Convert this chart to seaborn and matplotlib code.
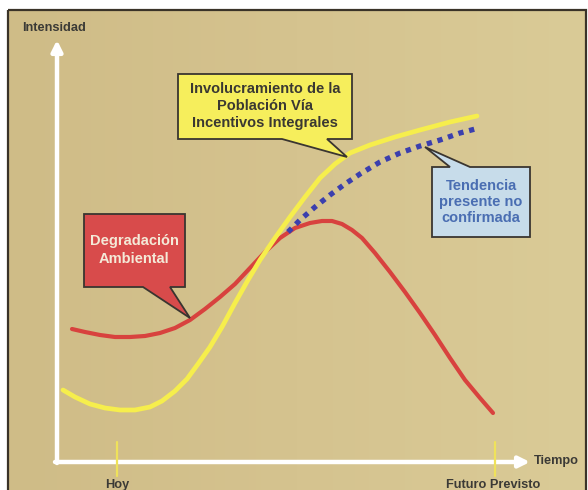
import numpy as np
import pandas as pd
import matplotlib
matplotlib.use("Agg")
import matplotlib.pyplot as plt
from matplotlib.patches import Polygon, Rectangle
from matplotlib.colors import LinearSegmentedColormap
from matplotlib import font_manager
import seaborn as sns

# ---- data (time position, intensity position) ----
yellow_t = [63, 75, 90, 105, 120, 135, 150, 162, 175, 187, 198, 210, 222, 235, 248, 260, 275, 290,
            305, 320, 335, 350, 370, 395, 420, 450, 477]
yellow_v = [390, 397, 404, 408, 410, 410, 407, 401, 391, 379, 364, 347, 327, 303, 280, 260, 238, 217,
            197, 178, 164, 153, 145, 137, 130, 122, 116]

red_t = [72, 85, 100, 115, 130, 145, 160, 175, 190, 205, 220, 235, 250, 265, 280, 295, 310, 322,
         332, 342, 352, 362, 375, 390, 405, 420, 435, 450, 465, 480, 493]
red_v = [329, 332, 335, 337, 337, 336, 333, 328, 320, 309, 297, 284, 268, 252, 238, 228, 223, 221,
         221, 224, 230, 238, 253, 272, 292, 313, 335, 358, 380, 398, 413]

blue_t = [288, 300, 315, 330, 345, 360, 380, 400, 420, 440, 460, 479]
blue_v = [232, 220, 207, 195, 184, 174, 162, 153, 146, 140, 133, 128]

tick_labels = ["Hoy", "Futuro Previsto"]
tick_pos = [117, 495]

sns.set_theme(style="white")
plt.rcParams['font.family'] = ['Liberation Sans', 'DejaVu Sans']

names = {f.name for f in font_manager.fontManager.ttflist}
if "Liberation Sans Narrow" in names:
    box_family = ["Liberation Sans Narrow", "Liberation Sans", "DejaVu Sans"]
    box_size = 12.0
else:
    box_family = ["Liberation Sans", "DejaVu Sans"]
    box_size = 10.5

fig = plt.figure(figsize=(5.88, 4.90), dpi=100)
fig.patch.set_facecolor("white")
ax = fig.add_axes([0, 0, 1, 1])
ax.set_xlim(0, 588)
ax.set_ylim(490, 0)
ax.axis("off")

# background panel with slight gradient
grad = np.linspace(0, 1, 256)[None, :]
cmap = LinearSegmentedColormap.from_list("tan", ["#cfbc87", "#d5c38f", "#dacb97"])
ax.imshow(grad, extent=(8, 586, 490, 10), aspect="auto", cmap=cmap, zorder=0)
ax.add_patch(Rectangle((8, 10), 578, 482, fill=False, edgecolor="#3a3328", lw=1.6, zorder=1))

# axes arrows
ax.annotate("", xy=(57, 40), xytext=(57, 463),
            arrowprops=dict(arrowstyle="-|>", lw=3.2, color="white", mutation_scale=16, shrinkA=0, shrinkB=0), zorder=2)
ax.annotate("", xy=(530, 462), xytext=(55, 462),
            arrowprops=dict(arrowstyle="-|>", lw=3.2, color="white", mutation_scale=16, shrinkA=0, shrinkB=0), zorder=2)

for p in tick_pos:
    ax.plot([p, p], [442, 476], color="#efe25a", lw=1.6, zorder=3)

lab_kw = dict(fontsize=9.2, fontweight="bold", color="#3b3a36", va="center")
ax.text(22, 28, "Intensidad", ha="left", **lab_kw)
ax.text(534, 461, "Tiempo", ha="left", **lab_kw)
ax.text(117, 485, tick_labels[0], ha="center", **lab_kw)
ax.text(493, 485, tick_labels[1], ha="center", **lab_kw)

# curves
df_y = pd.DataFrame({"t": yellow_t, "v": yellow_v})
df_r = pd.DataFrame({"t": red_t, "v": red_v})
df_b = pd.DataFrame({"t": blue_t, "v": blue_v})
sns.lineplot(data=df_r, x="t", y="v", ax=ax, sort=False, estimator=None, color="#d8423e", lw=3.0, zorder=4)
sns.lineplot(data=df_y, x="t", y="v", ax=ax, sort=False, estimator=None, color="#f6ee4c", lw=3.4, zorder=5)
sns.lineplot(data=df_b, x="t", y="v", ax=ax, sort=False, estimator=None, color="#3b3fae", lw=3.8,
             linestyle=(0, (1, 1.1)), zorder=6)
for l in ax.get_lines():
    l.set_solid_joinstyle("round")
ax.get_lines()[-1].set_dash_capstyle("butt")
ax.set_xlim(0, 588)
ax.set_ylim(490, 0)
ax.set_xlabel("")
ax.set_ylabel("")

# callouts
def callout(box, base, tip, face, side="bottom"):
    x0, y0, x1, y1 = box
    b0, b1 = base
    if side == "bottom":
        pts = [(x0, y0), (x1, y0), (x1, y1), (b1, y1), tip, (b0, y1), (x0, y1)]
    else:
        pts = [(x0, y0), (b0, y0), tip, (b1, y0), (x1, y0), (x1, y1), (x0, y1)]
    ax.add_patch(Polygon(pts, closed=True, facecolor=face, edgecolor="#3a3530", lw=1.3, zorder=7,
                         joinstyle="miter"))

txt_kw = dict(fontsize=box_size, fontweight="bold", family=box_family, ha="center", va="center", zorder=8)

callout((178, 74, 352, 139), (282, 327), (347, 157), "#f6ee5c")
ax.text(265, 106, "Involucramiento de la\nPoblación Vía\nIncentivos Integrales", color="#3a3832",
        linespacing=1.25, **txt_kw)

callout((84, 214, 185, 287), (143, 170), (190, 318), "#d84b4b")
ax.text(134, 250, "Degradación\nAmbiental", color="#f4ead8", linespacing=1.35, **txt_kw)

callout((432, 167, 530, 237), (450, 470), (425, 147), "#c7dcea", side="top")
ax.text(481, 202, "Tendencia\npresente no\nconfirmada", color="#4a6eb2", linespacing=1.2, **txt_kw)

fig.savefig("out.png", dpi=100)
